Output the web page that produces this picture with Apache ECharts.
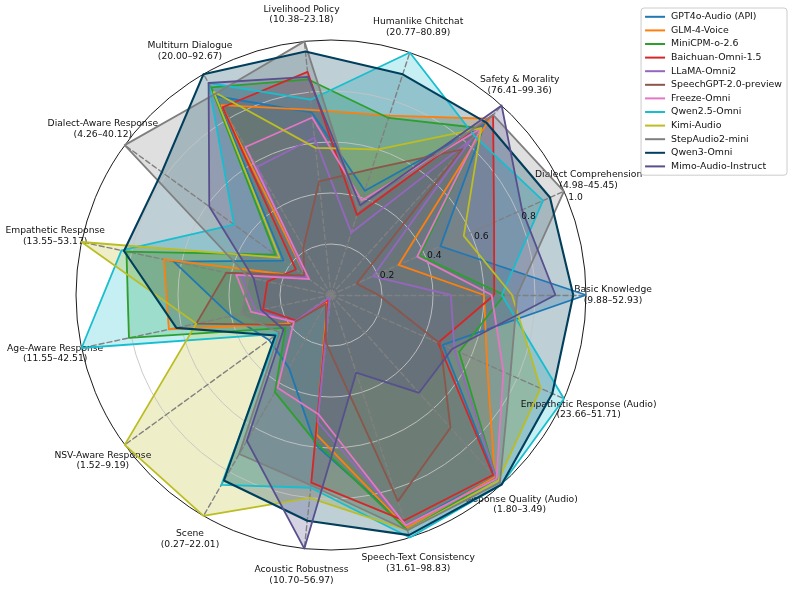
<!DOCTYPE html>
<html><head><meta charset="utf-8">
<script src="https://cdn.jsdelivr.net/npm/echarts@6/dist/echarts.min.js"></script>
<style>html,body{margin:0;padding:0;background:#fff}#c{width:793px;height:592px}</style>
</head><body><div id="c"></div>
<script>
// Axes (counter-clockwise from the right)
const axisNames = ['Basic Knowledge','Dialect Comprehension','Safety & Morality','Humanlike Chitchat','Livelihood Policy','Multiturn Dialogue','Dialect-Aware Response','Empathetic Response','Age-Aware Response','NSV-Aware Response','Scene','Acoustic Robustness','Speech-Text Consistency','Response Quality (Audio)','Empathetic Response (Audio)'];
const axisRanges = ['9.88–52.93','4.98–45.45','76.41–99.36','20.77–80.89','10.38–23.18','20.00–92.67','4.26–40.12','13.55–53.17','11.55–42.51','1.52–9.19','0.27–22.01','10.70–56.97','31.61–98.83','1.80–3.49','23.66–51.71'];
const radialTicks = [0.2, 0.4, 0.6, 0.8, 1.0];

const seriesNames = ['GPT4o-Audio (API)','GLM-4-Voice','MiniCPM-o-2.6','Baichuan-Omni-1.5','LLaMA-Omni2','SpeechGPT-2.0-preview','Freeze-Omni','Qwen2.5-Omni','Kimi-Audio','StepAudio2-mini','Qwen3-Omni','Mimo-Audio-Instruct'];
const seriesColors = ['#1f77b4','#ff7f0e','#2ca02c','#d62728','#9467bd','#8c564b','#e377c2','#17becf','#bcbd22','#7f7f7f','#003f5c','#58508d'];

// normalized scores (value / max) in axis order
const gpt4oAudio = [1.00, 0.47, 0.90, 0.43, 0.72, 0.90, 0.23, 0.63, 0.40, 0.30, 0.33, 0.59, 0.95, 0.96, 0.48];
const glm4Voice  = [0.60, 0.29, 0.93, 0.74, 0.73, 0.86, 0.12, 0.67, 0.65, 0.19, 0.03, 0.55, 0.96, 0.96, 0.67];
const miniCPM    = [0.68, 0.38, 0.88, 0.73, 0.85, 0.94, 0.27, 0.82, 0.81, 0.22, 0.44, 0.58, 0.97, 0.97, 0.55];
const baichuan   = [0.64, 0.70, 0.95, 0.33, 0.88, 0.85, 0.17, 0.255, 0.272, 0.17, 0.02, 0.74, 0.93, 0.95, 0.46];
const llamaOmni2 = [0.47, 0.18, 0.82, 0.257, 0.62, 0.58, 0.12, 0.36, 0.30, 0.18, 0.012, 0.50, 0.95, 0.97, 0.53];
const speechGPT  = [0.187, 0.11, 0.769, 0.52, 0.448, 0.216, 0.13, 0.42, 0.54, 0.20, 0.04, 0.188, 0.85, 0.70, 0.47];
const freezeOmni = [0.63, 0.37, 0.88, 0.39, 0.70, 0.67, 0.106, 0.38, 0.32, 0.18, 0.42, 0.47, 0.95, 0.97, 0.74];
const qwen25Omni = [0.67, 0.91, 0.84, 1.00, 0.77, 0.96, 0.47, 0.84, 1.00, 0.26, 0.86, 0.76, 1.00, 1.00, 1.00];
const kimiAudio  = [0.71, 0.57, 0.88, 0.60, 0.58, 0.92, 0.25, 1.00, 0.54, 1.00, 1.00, 0.80, 0.97, 0.98, 0.90];
const stepAudio2 = [0.73, 1.00, 0.95, 0.35, 1.00, 0.91, 1.00, 0.33, 0.36, 0.25, 0.72, 0.75, 0.97, 0.99, 0.77];
const qwen3Omni  = [0.95, 0.94, 0.91, 0.91, 0.96, 1.00, 0.82, 0.83, 0.62, 0.27, 0.84, 0.89, 0.99, 1.00, 0.95];
const mimoAudio  = [0.88, 0.82, 1.00, 0.37, 0.86, 0.96, 0.59, 0.31, 0.28, 0.23, 0.66, 1.00, 0.32, 0.516, 0.52];

const allValues = [gpt4oAudio, glm4Voice, miniCPM, baichuan, llamaOmni2, speechGPT, freezeOmni, qwen25Omni, kimiAudio, stepAudio2, qwen3Omni, mimoAudio];

const FONT = 'DejaVu Sans';
const CENTER = [331, 295];
const RADIUS = 255;

function hexA(hex, a) {
  const n = parseInt(hex.slice(1), 16);
  return 'rgba(' + ((n >> 16) & 255) + ',' + ((n >> 8) & 255) + ',' + (n & 255) + ',' + a + ')';
}

const areaSeries = seriesNames.map((name, i) => ({
  type: 'radar', name: name, z: 2, symbol: 'none', silent: true,
  itemStyle: { color: seriesColors[i] },
  lineStyle: { width: 0, opacity: 0 },
  areaStyle: { color: hexA(seriesColors[i], 0.25), opacity: 1 },
  data: [{ value: allValues[i], name: name }]
}));
const lineSeries = seriesNames.map((name, i) => ({
  type: 'radar', name: name, z: 4, symbol: 'none', silent: true,
  itemStyle: { color: seriesColors[i] },
  lineStyle: { width: i === 10 ? 2.1 : 1.8, color: seriesColors[i] },
  data: [{ value: allValues[i], name: name }]
}));

const chart = echarts.init(document.getElementById('c'), null, { renderer: 'canvas' });
chart.setOption({
  animation: false,
  backgroundColor: '#ffffff',
  textStyle: { fontFamily: FONT },
  legend: {
    orient: 'vertical', right: 6, top: 8,
    padding: [2, 5, 2, 4],
    itemWidth: 20, itemHeight: 2, itemGap: 0,
    borderColor: '#cccccc', borderWidth: 1, borderRadius: 3,
    backgroundColor: 'rgba(255,255,255,0.8)',
    textStyle: { fontFamily: FONT, fontSize: 9.4, color: '#111', lineHeight: 13.6, padding: [0, 0, 0, 1] },
    data: seriesNames.map((n, i) => ({ name: n, icon: 'rect', itemStyle: { color: seriesColors[i] } }))
  },
  radar: {
    z: 3,
    center: CENTER, radius: RADIUS, startAngle: 0, shape: 'circle', splitNumber: 5,
    indicator: axisNames.map((n, i) => ({ name: n + '\n(' + axisRanges[i] + ')', min: 0, max: 1 })),
    nameGap: 27,
    axisName: { color: '#111', fontFamily: FONT, fontSize: 9.2, lineHeight: 10.7, align: 'center', verticalAlign: 'middle' },
    axisLine: { lineStyle: { color: '#808080', width: 1.4, type: [5, 3] } },
    splitLine: { lineStyle: { color: ['#c4c4c4', '#c4c4c4', '#c4c4c4', '#c4c4c4', '#c4c4c4', '#000000'], width: 0.9 } },
    splitArea: { show: false },
    axisTick: { show: false },
    axisLabel: { show: false }
  },
  polar: { center: CENTER, radius: RADIUS },
  angleAxis: { type: 'value', min: 0, max: 360, startAngle: 22.5, show: false },
  radiusAxis: {
    type: 'value', min: 0, max: 1, interval: 0.2, z: 5,
    axisLine: { show: false }, axisTick: { show: false }, splitLine: { show: false },
    axisLabel: {
      margin: 0, align: 'center', verticalAlign: 'middle',
      fontFamily: FONT, fontSize: 9.2, color: '#111', padding: [0, 0, 8, 18],
      formatter: function (v) {
        const t = radialTicks.find(x => Math.abs(x - v) < 1e-6);
        return t === undefined ? '' : t.toFixed(1);
      }
    }
  },
  series: areaSeries.concat(lineSeries)
});
</script></body></html>
